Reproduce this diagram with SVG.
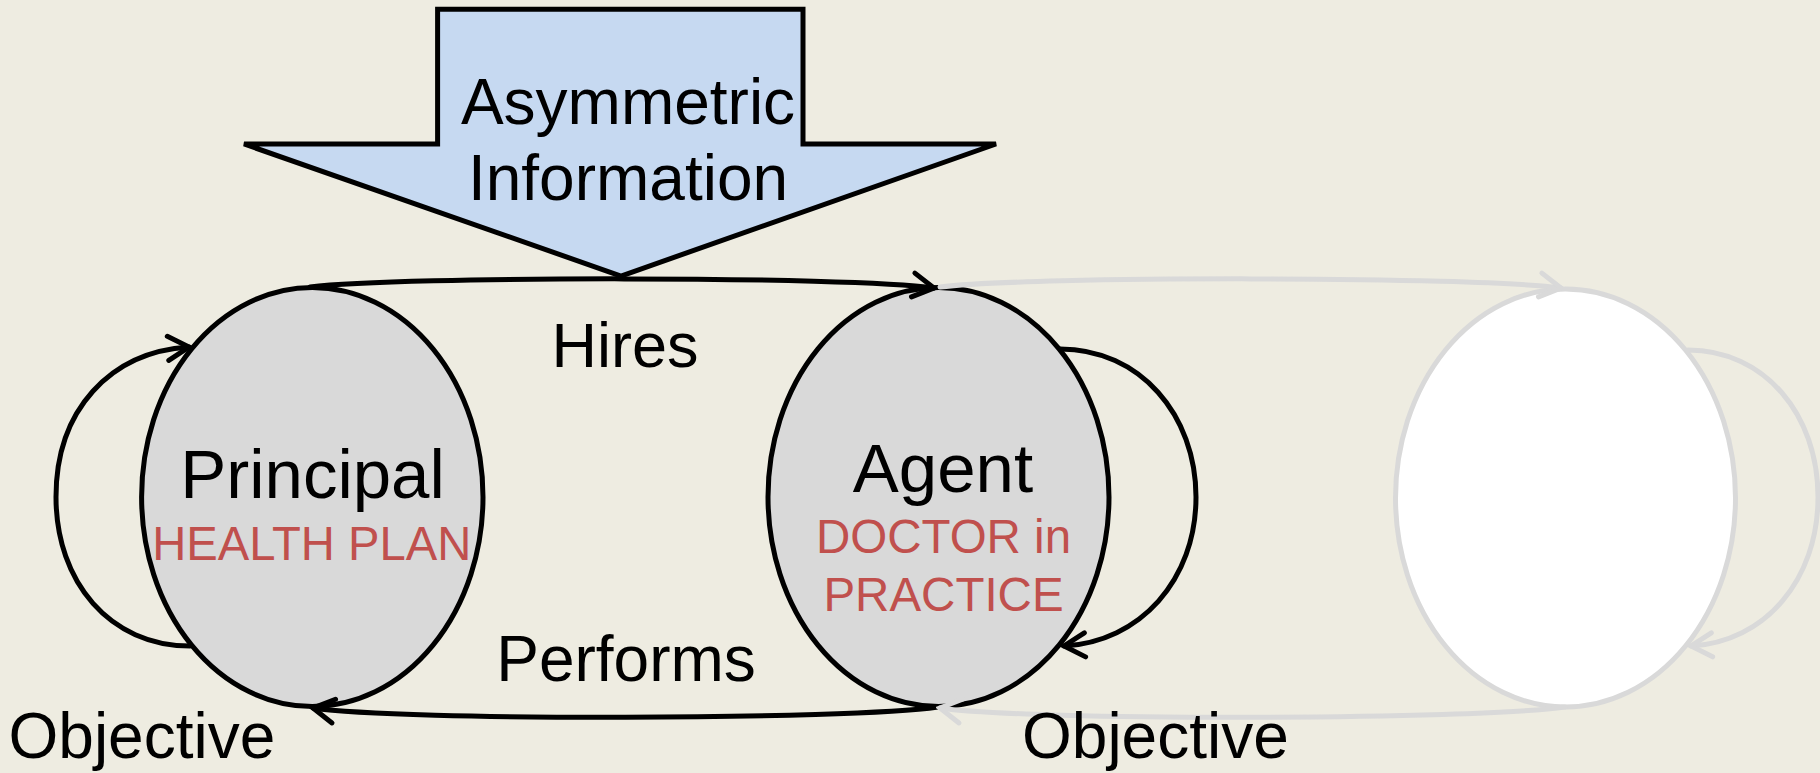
<svg xmlns="http://www.w3.org/2000/svg" width="1820" height="773" viewBox="0 0 1820 773">
<defs>
<style>
.t{font-family:"Liberation Sans",Arial,sans-serif;fill:#000}
.red{fill:#C0504D}
.node{stroke:#000;stroke-width:5;fill:#D9D9D9}
.ghost{stroke:#D9D9D9;stroke-width:5;fill:#FFFFFF}
.con{fill:none;stroke:#000;stroke-width:5;stroke-linecap:round}
.gcon{fill:none;stroke:#D9D9D9;stroke-width:5;stroke-linecap:round}
</style>
<marker id="ah" viewBox="-26 -15 30 30" refX="0" refY="0" markerWidth="30" markerHeight="30" markerUnits="userSpaceOnUse" orient="auto">
<path d="M -21 -12 L 0 0 L -21 12" fill="none" stroke="#000" stroke-width="5" stroke-linecap="round" stroke-linejoin="miter"/>
</marker>
<marker id="gah" viewBox="-26 -15 30 30" refX="0" refY="0" markerWidth="30" markerHeight="30" markerUnits="userSpaceOnUse" orient="auto">
<path d="M -21 -12 L 0 0 L -21 12" fill="none" stroke="#D9D9D9" stroke-width="5" stroke-linecap="round" stroke-linejoin="miter"/>
</marker>
</defs>
<rect x="0" y="0" width="1820" height="773" fill="#EEECE1"/>

<g id="asymmetric-info">
<polygon points="437.6,9.3 803,9.3 803,144 996,144 621,276 244,144 437.6,144" fill="#C6D9F1" stroke="#000" stroke-width="5" stroke-linejoin="miter"/>
<text class="t" x="628" y="124" font-size="64" text-anchor="middle">Asymmetric</text>
<text class="t" x="628" y="200" font-size="64" text-anchor="middle">Information</text>
</g>

<g id="principal">
<ellipse class="node" cx="312.3" cy="497" rx="170.7" ry="209.5"/>
<text class="t" x="312.5" y="498" font-size="69" text-anchor="middle">Principal</text>
<text class="t red" x="311.7" y="560" font-size="47.2" text-anchor="middle">HEALTH PLAN</text>
</g>

<g id="agent">
<ellipse class="node" cx="938.5" cy="497" rx="170.5" ry="209.5"/>
<text class="t" x="943" y="492" font-size="69" text-anchor="middle">Agent</text>
<text class="t red" x="943.5" y="553" font-size="47.5" text-anchor="middle">DOCTOR in</text>
<text class="t red" x="943.5" y="610.5" font-size="47.5" text-anchor="middle">PRACTICE</text>
</g>

<g id="third">
<ellipse class="ghost" cx="1565.5" cy="498" rx="170" ry="209"/>
</g>

<g id="connectors">
<path class="con" d="M 310 287 C 400 276, 850 276, 934 288" marker-end="url(#ah)"/>
<path class="con" d="M 938 707 C 850 720, 400 721, 313 708" marker-end="url(#ah)"/>
<path class="con" d="M 190 646 C 110 646, 56 582, 56 497 C 56 410, 110 352, 189 347" marker-end="url(#ah)"/>
<path class="con" d="M 1060 349 C 1140 349, 1196 415, 1196 497 C 1196 580, 1140 642, 1064 646" marker-end="url(#ah)"/>
<path class="gcon" d="M 940 287 C 1027 276, 1477 276, 1561 288" marker-end="url(#gah)"/>
<path class="gcon" d="M 1565 707 C 1477 720, 1027 721, 940 708" marker-end="url(#gah)"/>
<path class="gcon" d="M 1688 350 C 1765 350, 1818 415, 1818 497 C 1818 580, 1765 642, 1691 646" marker-end="url(#gah)"/>
</g>

<g id="labels">
<text class="t" x="625" y="367" font-size="63" text-anchor="middle">Hires</text>
<text class="t" x="626" y="681" font-size="64" text-anchor="middle">Performs</text>
<text class="t" x="8.5" y="757.5" font-size="64">Objective</text>
<text class="t" x="1022" y="757.5" font-size="64">Objective</text>
</g>
</svg>
